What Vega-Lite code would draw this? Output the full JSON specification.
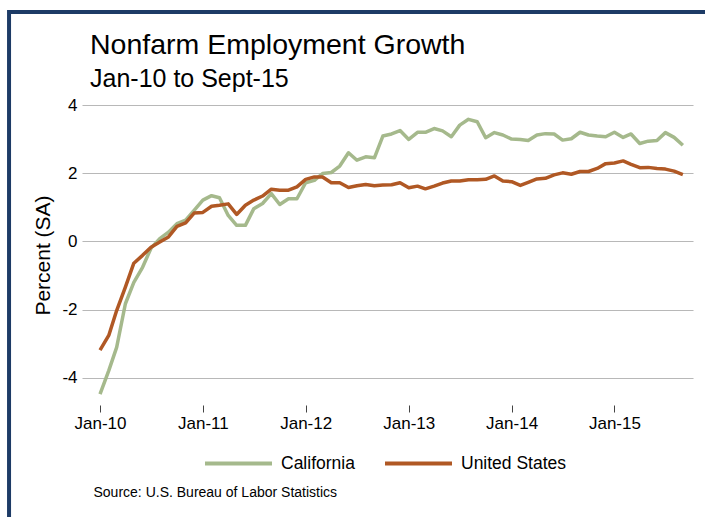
{
  "$schema": "https://vega.github.io/schema/vega-lite/v6.json",
  "width": 611,
  "height": 300,
  "autosize": {"type": "none"},
  "padding": {"left": 82, "top": 105, "right": 12, "bottom": 112},
  "background": "white",
  "config": {"font": "Liberation Sans", "view": {"stroke": null}},
  "title": {
    "text": "Nonfarm Employment Growth",
    "subtitle": "Jan-10 to Sept-15",
    "anchor": "start",
    "frame": "group",
    "dx": 8,
    "fontSize": 28.5,
    "fontWeight": "normal",
    "color": "black",
    "subtitleFontSize": 25,
    "subtitleColor": "black",
    "subtitlePadding": 7,
    "offset": -84
  },
  "layer": [
    {
      "data": {
        "values": [
          {"month": "2010-01", "California": -4.48, "United States": -3.19},
          {"month": "2010-02", "California": -3.79, "United States": -2.76},
          {"month": "2010-03", "California": -3.11, "United States": -2.03},
          {"month": "2010-04", "California": -1.83, "United States": -1.34},
          {"month": "2010-05", "California": -1.2, "United States": -0.64},
          {"month": "2010-06", "California": -0.76, "United States": -0.41},
          {"month": "2010-07", "California": -0.2, "United States": -0.17},
          {"month": "2010-08", "California": 0.08, "United States": -0.02},
          {"month": "2010-09", "California": 0.27, "United States": 0.13},
          {"month": "2010-10", "California": 0.52, "United States": 0.44},
          {"month": "2010-11", "California": 0.62, "United States": 0.54},
          {"month": "2010-12", "California": 0.91, "United States": 0.83},
          {"month": "2011-01", "California": 1.21, "United States": 0.85},
          {"month": "2011-02", "California": 1.34, "United States": 1.03},
          {"month": "2011-03", "California": 1.28, "United States": 1.06},
          {"month": "2011-04", "California": 0.76, "United States": 1.1},
          {"month": "2011-05", "California": 0.47, "United States": 0.79},
          {"month": "2011-06", "California": 0.47, "United States": 1.06},
          {"month": "2011-07", "California": 0.96, "United States": 1.21},
          {"month": "2011-08", "California": 1.11, "United States": 1.33},
          {"month": "2011-09", "California": 1.4, "United States": 1.53},
          {"month": "2011-10", "California": 1.08, "United States": 1.5},
          {"month": "2011-11", "California": 1.25, "United States": 1.5},
          {"month": "2011-12", "California": 1.25, "United States": 1.6},
          {"month": "2012-01", "California": 1.72, "United States": 1.82},
          {"month": "2012-02", "California": 1.79, "United States": 1.89},
          {"month": "2012-03", "California": 1.99, "United States": 1.89},
          {"month": "2012-04", "California": 2.02, "United States": 1.72},
          {"month": "2012-05", "California": 2.21, "United States": 1.72},
          {"month": "2012-06", "California": 2.6, "United States": 1.58},
          {"month": "2012-07", "California": 2.38, "United States": 1.63},
          {"month": "2012-08", "California": 2.48, "United States": 1.67},
          {"month": "2012-09", "California": 2.45, "United States": 1.63},
          {"month": "2012-10", "California": 3.09, "United States": 1.65},
          {"month": "2012-11", "California": 3.15, "United States": 1.66},
          {"month": "2012-12", "California": 3.25, "United States": 1.72},
          {"month": "2013-01", "California": 2.99, "United States": 1.57},
          {"month": "2013-02", "California": 3.2, "United States": 1.62},
          {"month": "2013-03", "California": 3.2, "United States": 1.54},
          {"month": "2013-04", "California": 3.31, "United States": 1.62},
          {"month": "2013-05", "California": 3.24, "United States": 1.71},
          {"month": "2013-06", "California": 3.07, "United States": 1.77},
          {"month": "2013-07", "California": 3.41, "United States": 1.77},
          {"month": "2013-08", "California": 3.58, "United States": 1.81},
          {"month": "2013-09", "California": 3.51, "United States": 1.81},
          {"month": "2013-10", "California": 3.04, "United States": 1.82},
          {"month": "2013-11", "California": 3.19, "United States": 1.92},
          {"month": "2013-12", "California": 3.12, "United States": 1.77},
          {"month": "2014-01", "California": 3.0, "United States": 1.75},
          {"month": "2014-02", "California": 2.99, "United States": 1.64},
          {"month": "2014-03", "California": 2.96, "United States": 1.73},
          {"month": "2014-04", "California": 3.12, "United States": 1.83},
          {"month": "2014-05", "California": 3.16, "United States": 1.85},
          {"month": "2014-06", "California": 3.15, "United States": 1.95},
          {"month": "2014-07", "California": 2.97, "United States": 2.01},
          {"month": "2014-08", "California": 3.01, "United States": 1.97},
          {"month": "2014-09", "California": 3.2, "United States": 2.05},
          {"month": "2014-10", "California": 3.12, "United States": 2.05},
          {"month": "2014-11", "California": 3.09, "United States": 2.14},
          {"month": "2014-12", "California": 3.07, "United States": 2.28},
          {"month": "2015-01", "California": 3.2, "United States": 2.3},
          {"month": "2015-02", "California": 3.05, "United States": 2.36},
          {"month": "2015-03", "California": 3.15, "United States": 2.26},
          {"month": "2015-04", "California": 2.87, "United States": 2.16},
          {"month": "2015-05", "California": 2.94, "United States": 2.17},
          {"month": "2015-06", "California": 2.96, "United States": 2.14},
          {"month": "2015-07", "California": 3.19, "United States": 2.12},
          {"month": "2015-08", "California": 3.05, "United States": 2.06},
          {"month": "2015-09", "California": 2.82, "United States": 1.96}
        ]
      },
      "transform": [{"fold": ["California", "United States"], "as": ["series", "value"]}],
      "mark": {"type": "line", "strokeWidth": 3.5, "strokeJoin": "round"},
      "encoding": {
        "x": {
          "field": "month",
          "type": "temporal",
          "scale": {
            "type": "utc",
            "domain": [
              {"year": 2009, "month": 10, "date": 29, "utc": true},
              {"year": 2015, "month": 10, "date": 7, "utc": true}
            ]
          },
          "axis": {
            "values": [
              {"year": 2010, "month": 1, "date": 1, "utc": true},
              {"year": 2011, "month": 1, "date": 1, "utc": true},
              {"year": 2012, "month": 1, "date": 1, "utc": true},
              {"year": 2013, "month": 1, "date": 1, "utc": true},
              {"year": 2014, "month": 1, "date": 1, "utc": true},
              {"year": 2015, "month": 1, "date": 1, "utc": true}
            ],
            "format": "%b-%y",
            "domain": false,
            "grid": false,
            "ticks": true,
            "tickSize": 7,
            "tickColor": "#444444",
            "labelFontSize": 17,
            "labelColor": "black",
            "labelPadding": 3,
            "labelFlush": false,
            "title": "Source: U.S. Bureau of Labor Statistics",
            "titleFontSize": 14,
            "titleFontWeight": "normal",
            "titleColor": "black",
            "titleAnchor": "start",
            "titleAlign": "left",
            "titleBaseline": "middle",
            "titleX": 11,
            "titleY": 87
          }
        },
        "y": {
          "field": "value",
          "type": "quantitative",
          "scale": {"domain": [-4.8, 4], "nice": false, "zero": false},
          "axis": {
            "values": [-4, -2, 0, 2, 4],
            "labelExpr": "datum.value < 0 ? '-' + abs(datum.value) : '' + datum.value",
            "domain": false,
            "ticks": false,
            "grid": true,
            "gridColor": "#b8b8b8",
            "gridWidth": 1.2,
            "labelFontSize": 17,
            "labelColor": "black",
            "labelPadding": 5,
            "title": "Percent (SA)",
            "titleFontSize": 21,
            "titleFontWeight": "normal",
            "titleColor": "black",
            "titlePadding": 8
          }
        },
        "color": {
          "field": "series",
          "type": "nominal",
          "scale": {"domain": ["California", "United States"], "range": ["#a5b98c", "#b05824"]},
          "legend": {
            "orient": "none",
            "legendX": 121,
            "legendY": 323,
            "direction": "horizontal",
            "title": null,
            "symbolType": "stroke",
            "symbolStrokeWidth": 4,
            "symbolSize": 4489,
            "labelFontSize": 17.5,
            "labelColor": "black",
            "labelOffset": 7,
            "columnPadding": 22,
            "padding": 0
          }
        }
      }
    },
    {
      "data": {"values": [{}]},
      "mark": {"type": "rule", "color": "#1d3b66", "strokeWidth": 4, "clip": false},
      "encoding": {
        "x": {"datum": {"year": 2009, "month": 2, "date": 12, "utc": true}, "type": "temporal"},
        "x2": {"datum": {"year": 2016, "month": 6, "date": 1, "utc": true}},
        "y": {"datum": 6.728}
      }
    },
    {
      "data": {"values": [{}]},
      "mark": {"type": "rule", "color": "#1d3b66", "strokeWidth": 4, "clip": false},
      "encoding": {
        "x": {"datum": {"year": 2009, "month": 2, "date": 12, "utc": true}, "type": "temporal"},
        "y": {"datum": 6.79},
        "y2": {"datum": -9}
      }
    }
  ]
}
